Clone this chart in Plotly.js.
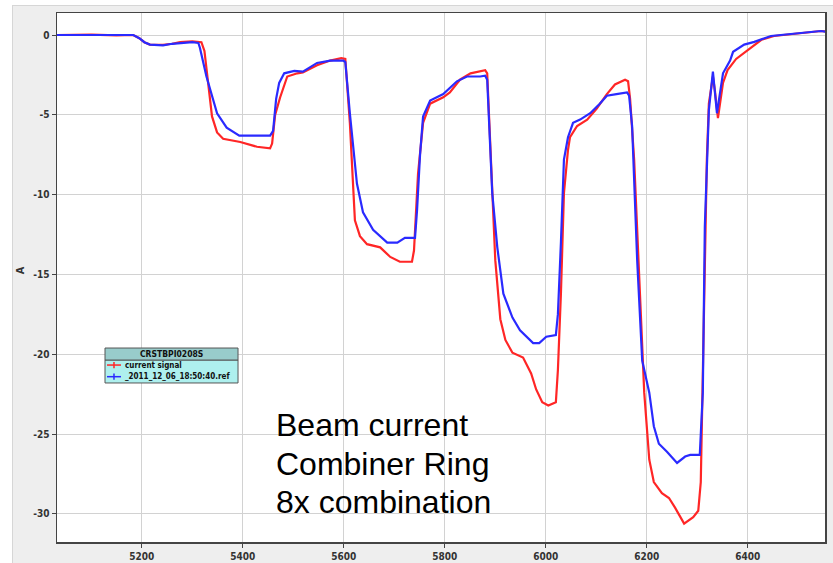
<!DOCTYPE html>
<html>
<head>
<meta charset="utf-8">
<script src="https://cdn.plot.ly/plotly-3.0.1.min.js"></script>
<style>
  html, body { margin: 0; padding: 0; background: #ffffff; }
  #panel { position: absolute; left: 12px; top: 5px; width: 820px; height: 557px;
           border-left: 1px solid #d6d6d6; border-top: 1px solid #d6d6d6; background: #eeeeee; }
  #chart { width: 820px; height: 557px; }
</style>
</head>
<body>
<div id="panel"><div id="chart"></div></div>
<script>
// ---- data ----
const redX = [5032, 5100, 5150, 5183, 5195, 5205, 5216, 5242, 5260, 5276, 5300, 5318, 5324, 5332, 5339, 5349, 5361, 5395, 5428, 5454, 5458, 5464, 5474, 5488, 5508, 5519, 5547, 5573, 5595, 5603, 5612, 5622, 5632, 5646, 5672, 5692, 5711, 5735, 5739, 5747, 5757, 5771, 5797, 5810, 5830, 5851, 5870, 5880, 5884, 5894, 5900, 5910, 5920, 5934, 5955, 5971, 5981, 5993, 6005, 6020, 6024, 6030, 6036, 6044, 6048, 6062, 6082, 6101, 6121, 6137, 6157, 6163, 6167, 6175, 6185, 6195, 6205, 6214, 6230, 6244, 6256, 6274, 6292, 6302, 6307, 6313, 6319, 6323, 6331, 6335, 6341, 6351, 6360, 6377, 6399, 6427, 6452, 6486, 6526, 6545, 6560];
const redY = [0, 0.02, -0.02, 0, -0.2, -0.45, -0.6, -0.62, -0.55, -0.45, -0.4, -0.45, -1.0, -3.0, -5.1, -6.1, -6.5, -6.7, -7.0, -7.1, -6.8, -5.0, -3.9, -2.6, -2.4, -2.35, -1.9, -1.6, -1.45, -1.5, -5.5, -11.6, -12.6, -13.1, -13.3, -13.9, -14.2, -14.2, -13.5, -8.7, -5.5, -4.3, -3.9, -3.6, -2.8, -2.4, -2.3, -2.2, -2.4, -9.9, -14.1, -17.8, -19.1, -19.9, -20.2, -21.2, -22.2, -23.0, -23.2, -23.0, -21.0, -16.2, -9.9, -7.2, -6.4, -5.7, -5.3, -4.6, -3.7, -3.1, -2.8, -2.9, -4.0, -7.8, -15.2, -22.4, -26.6, -28.0, -28.7, -29.0, -29.6, -30.6, -30.2, -29.8, -28.0, -18.3, -7.8, -4.3, -2.6, -3.5, -5.2, -3.0, -2.2, -1.5, -0.95, -0.3, -0.06, 0.05, 0.15, 0.25, 0.2];

const blueX = [5032, 5100, 5150, 5183, 5195, 5205, 5216, 5242, 5260, 5276, 5300, 5312, 5315, 5328, 5349, 5368, 5393, 5428, 5454, 5460, 5466, 5472, 5482, 5502, 5519, 5547, 5573, 5599, 5603, 5612, 5626, 5638, 5658, 5686, 5706, 5721, 5741, 5745, 5751, 5757, 5771, 5797, 5824, 5844, 5870, 5880, 5884, 5894, 5904, 5916, 5934, 5949, 5975, 5987, 6001, 6020, 6024, 6030, 6036, 6044, 6054, 6068, 6088, 6107, 6121, 6140, 6161, 6165, 6171, 6181, 6191, 6205, 6214, 6224, 6240, 6260, 6276, 6286, 6305, 6311, 6315, 6323, 6331, 6339, 6351, 6365, 6371, 6393, 6413, 6446, 6486, 6526, 6545, 6560];
const blueY = [0, 0, 0.02, 0, -0.2, -0.45, -0.6, -0.65, -0.55, -0.5, -0.45, -0.5, -0.8, -2.6, -4.9, -5.8, -6.3, -6.3, -6.3, -6.0, -4.0, -3.0, -2.4, -2.25, -2.3, -1.75, -1.6, -1.6, -1.7, -4.9, -9.3, -11.1, -12.2, -13.0, -13.0, -12.7, -12.7, -11.0, -7.5, -5.1, -4.1, -3.7, -2.9, -2.6, -2.6, -2.55, -2.8, -9.9, -13.3, -16.2, -17.7, -18.5, -19.3, -19.3, -18.9, -18.8, -17.5, -13.0, -7.8, -6.4, -5.5, -5.3, -4.9, -4.3, -3.8, -3.7, -3.6, -3.8, -5.7, -14.1, -20.4, -22.4, -24.5, -25.6, -26.1, -26.8, -26.4, -26.3, -26.3, -22.4, -12.0, -4.7, -2.3, -4.9, -2.4, -1.6, -1.05, -0.6, -0.43, -0.06, 0.06, 0.17, 0.25, 0.17];

const seriesNames = ["current signal", "_2011_12_06_18:50:40.ref"];
const legendTitle = "CRSTBPI0208S";
const xTicks = [5200, 5400, 5600, 5800, 6000, 6200, 6400];
const yTicks = [0, -5, -10, -15, -20, -25, -30];
const noteLines = ["Beam current", "Combiner Ring", "8x combination"];

const RED = "#ff2626", BLUE = "#2a2aff";
const tickFont = {family: "DejaVu Sans Condensed, DejaVu Sans, sans-serif", size: 10, color: "#333333", weight: "bold"};

const traces = [
  {x: redX, y: redY, name: seriesNames[0], type: "scatter", mode: "lines",
   line: {color: RED, width: 2.2}, showlegend: false},
  {x: blueX, y: blueY, name: seriesNames[1], type: "scatter", mode: "lines",
   line: {color: BLUE, width: 2.2}, showlegend: false}
];

// legend box (paper coords)
const L = {x0: 0.0625, x1: 0.2357, y0: 0.3006, yh: 0.3440, y1: 0.3667};
const rows = [0.3345, 0.3125];
const shapes = [
  {type: "rect", xref: "paper", yref: "paper", x0: L.x0, x1: L.x1, y0: L.y0, y1: L.yh,
   fillcolor: "#aef0ee", line: {color: "#555555", width: 1}, layer: "above"},
  {type: "rect", xref: "paper", yref: "paper", x0: L.x0, x1: L.x1, y0: L.yh, y1: L.y1,
   fillcolor: "#98cccb", line: {color: "#555555", width: 1}, layer: "above"}
];
const cols = [RED, BLUE];
rows.forEach((ry, i) => {
  shapes.push({type: "line", xref: "paper", yref: "paper", x0: 0.0651, x1: 0.0833, y0: ry, y1: ry,
               line: {color: cols[i], width: 1.5}, layer: "above"});
  shapes.push({type: "line", xref: "paper", yref: "paper", x0: 0.0742, x1: 0.0742, y0: ry - 0.006, y1: ry + 0.006,
               line: {color: cols[i], width: 1.5}, layer: "above"});
});

const annotations = [
  {xref: "paper", yref: "paper", x: -0.048, y: 0.514, text: "A", showarrow: false, textangle: -90,
   xanchor: "center", yanchor: "middle",
   font: {family: "DejaVu Sans Condensed, DejaVu Sans, sans-serif", size: 11, color: "#333", weight: "bold"}},
  {xref: "paper", yref: "paper", x: (L.x0 + L.x1) / 2, y: (L.yh + L.y1) / 2, text: legendTitle, showarrow: false,
   xanchor: "center", yanchor: "middle",
   font: {family: "DejaVu Sans Condensed, DejaVu Sans, sans-serif", size: 8.5, color: "#111", weight: "bold"}}
];
rows.forEach((ry, i) => {
  annotations.push({xref: "paper", yref: "paper", x: 0.0859, y: ry, text: seriesNames[i], showarrow: false,
    xanchor: "left", yanchor: "middle",
    font: {family: "DejaVu Sans Condensed, DejaVu Sans, sans-serif", size: 8, color: "#111", weight: "bold"}});
});
const notePy = [425, 464, 502];
noteLines.forEach((t, i) => {
  annotations.push({xref: "paper", yref: "paper", x: (274 - 57) / 768, y: (542 - notePy[i]) / 529, text: t,
    showarrow: false, xanchor: "left", yanchor: "middle",
    font: {family: "Liberation Sans, Arial, sans-serif", size: 32, color: "#000"}});
});

const axisCommon = {
  showgrid: true, gridcolor: "#d2d2d2", gridwidth: 1, zeroline: false,
  showline: true, mirror: true, linecolor: "#444444", linewidth: 1.5,
  ticks: "outside", ticklen: 4, tickwidth: 1, tickcolor: "#444444",
  tickfont: tickFont, tickmode: "array", fixedrange: true
};

const layout = {
  width: 820, height: 557,
  margin: {l: 44, r: 8, t: 7, b: 21, pad: 0},
  paper_bgcolor: "#eeeeee", plot_bgcolor: "#ffffff",
  xaxis: Object.assign({}, axisCommon, {range: [5032, 6553], tickvals: xTicks, ticktext: xTicks.map(String)}),
  yaxis: Object.assign({}, axisCommon, {range: [-31.754, 1.378], tickvals: yTicks,
         ticktext: yTicks.map(v => v < 0 ? "-" + Math.abs(v) : String(v))}),
  shapes: shapes,
  annotations: annotations,
  showlegend: false
};

Plotly.newPlot("chart", traces, layout, {displayModeBar: false, staticPlot: true});
</script>
</body>
</html>
